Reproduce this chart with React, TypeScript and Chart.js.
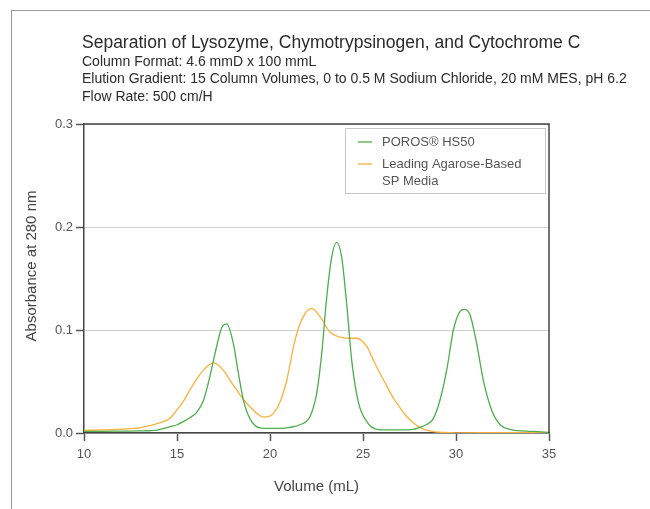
import React, { useEffect, useRef } from "react";
import { Chart, registerables } from "chart.js";

Chart.register(...registerables);

const titleText = "Separation of Lysozyme, Chymotrypsinogen, and Cytochrome C";
const subtitleLines = [
  "Column Format: 4.6 mmD x 100 mmL",
  "Elution Gradient: 15 Column Volumes, 0 to 0.5 M Sodium Chloride, 20 mM MES, pH 6.2",
  "Flow Rate: 500 cm/H",
];
const xAxisTitle = "Volume (mL)";
const yAxisTitle = "Absorbance at 280 nm";
const seriesNames = ["POROS\u00AE HS50", "Leading Agarose-Based|SP Media"];
const seriesColors = ["#4cae4c", "#fbb13c"];

const porosX = [10, 11, 12, 13, 13.55, 14, 14.6, 15, 15.34, 15.7, 16.06, 16.41, 16.77, 17.13, 17.4, 17.67, 18.03, 18.3, 18.57, 18.92, 19.46, 20, 20.54, 21.07, 21.61, 22.15, 22.51, 22.78, 23.05, 23.32, 23.58, 23.85, 24.12, 24.39, 24.75, 25.2, 25.74, 26.45, 27, 27.7, 28.06, 28.4, 28.78, 29.14, 29.5, 29.86, 30.22, 30.45, 30.75, 31.11, 31.47, 31.92, 32.37, 32.9, 34.15, 35];
const porosY = [0.0015, 0.0016, 0.0018, 0.002, 0.0022, 0.003, 0.006, 0.008, 0.011, 0.015, 0.02, 0.031, 0.055, 0.084, 0.102, 0.106, 0.087, 0.058, 0.032, 0.014, 0.005, 0.0045, 0.0045, 0.0055, 0.008, 0.016, 0.0385, 0.077, 0.132, 0.171, 0.185, 0.171, 0.126, 0.071, 0.03, 0.011, 0.0036, 0.003, 0.003, 0.0036, 0.0055, 0.008, 0.014, 0.032, 0.061, 0.1, 0.118, 0.12, 0.115, 0.087, 0.051, 0.022, 0.008, 0.0036, 0.0015, 0.0005];

const agaroseX = [10, 11, 12.3, 13, 13.7, 14.26, 14.6, 14.98, 15.35, 15.7, 16.05, 16.41, 16.99, 17.49, 17.85, 18.2, 18.55, 18.92, 19.3, 19.64, 19.9, 20.18, 20.54, 20.9, 21.34, 21.79, 22.24, 22.69, 23.22, 23.76, 24.2, 24.66, 25.2, 25.55, 25.91, 26.27, 26.63, 26.99, 27.35, 27.7, 28.06, 28.4, 28.78, 29.4, 30, 32, 35];
const agaroseY = [0.0025, 0.003, 0.004, 0.005, 0.0078, 0.011, 0.014, 0.022, 0.031, 0.042, 0.052, 0.061, 0.068, 0.061, 0.051, 0.042, 0.033, 0.0255, 0.019, 0.0155, 0.0158, 0.019, 0.03, 0.051, 0.09, 0.113, 0.121, 0.113, 0.098, 0.093, 0.092, 0.092, 0.084, 0.071, 0.058, 0.046, 0.034, 0.0245, 0.016, 0.01, 0.0055, 0.0028, 0.0013, 0.0005, 0.0002, 0.0003, 0.0005];

const FONT = "'Liberation Sans', Arial, Helvetica, sans-serif";

const decorPlugin = {
  id: "decor",
  afterDraw(chart: any) {
    const { ctx, chartArea } = chart;
    const { left, right, top, bottom } = chartArea;
    ctx.save();
    ctx.strokeStyle = "#444";
    ctx.lineWidth = 1.5;
    ctx.beginPath();
    ctx.moveTo(left, top);
    ctx.lineTo(right, top);
    ctx.lineTo(right, bottom);
    ctx.stroke();

    ctx.fillStyle = "#2b2b2b";
    ctx.textAlign = "left";
    ctx.textBaseline = "middle";
    ctx.font = `17.5px ${FONT}`;
    ctx.fillText(titleText, left - 2, 43);
    ctx.font = `14px ${FONT}`;
    const ys = [62, 79, 97];
    subtitleLines.forEach((t, i) => ctx.fillText(t, left - 2, ys[i]));

    ctx.save();
    ctx.translate(32, 266);
    ctx.rotate(-Math.PI / 2);
    ctx.textAlign = "center";
    ctx.textBaseline = "middle";
    ctx.font = `15px ${FONT}`;
    ctx.fillStyle = "#444";
    ctx.fillText(yAxisTitle, 0, 0);
    ctx.restore();

    const bx = right - 204;
    const by = top + 4;
    const bw = 200;
    const bh = 65;
    ctx.fillStyle = "#fff";
    ctx.fillRect(bx, by, bw, bh);
    ctx.strokeStyle = "#c8c8c8";
    ctx.lineWidth = 1;
    ctx.strokeRect(bx + 0.5, by + 0.5, bw, bh);
    ctx.font = `13px ${FONT}`;
    ctx.textAlign = "left";
    ctx.textBaseline = "middle";
    const rowY = [by + 14, by + 36];
    seriesNames.forEach((name, i) => {
      ctx.strokeStyle = seriesColors[i];
      ctx.lineWidth = 1.3;
      ctx.beginPath();
      ctx.moveTo(bx + 13, rowY[i]);
      ctx.lineTo(bx + 27, rowY[i]);
      ctx.stroke();
      ctx.fillStyle = "#555";
      name.split("|").forEach((ln, j) => ctx.fillText(ln, bx + 37, rowY[i] + j * 17));
    });
    ctx.restore();
  },
};

export default function App() {
  const ref = useRef<HTMLCanvasElement | null>(null);
  useEffect(() => {
    if (!ref.current) return;
    const chart = new Chart(ref.current, {
      type: "line",
      data: {
        datasets: [
          {
            label: seriesNames[0],
            data: porosX.map((x, i) => ({ x, y: porosY[i] })),
            borderColor: seriesColors[0],
            borderWidth: 1.3,
            pointRadius: 0,
            cubicInterpolationMode: "monotone",
          },
          {
            label: seriesNames[1],
            data: agaroseX.map((x, i) => ({ x, y: agaroseY[i] })),
            borderColor: seriesColors[1],
            borderWidth: 1.3,
            pointRadius: 0,
            cubicInterpolationMode: "monotone",
          },
        ],
      },
      options: {
        responsive: false,
        animation: false,
        devicePixelRatio: 1,
        layout: { padding: { top: 124, right: 101, bottom: 0, left: 0 } },
        plugins: { legend: { display: false }, tooltip: { enabled: false }, title: { display: false } },
        scales: {
          x: {
            type: "linear",
            min: 10,
            max: 35,
            afterFit: (s: any) => { s.height = 76; },
            ticks: { stepSize: 5, color: "#555", padding: 6, font: { family: FONT, size: 13 } },
            grid: { drawOnChartArea: false, tickLength: 8, tickColor: "#555", tickWidth: 1.5 },
            border: { color: "#444", width: 1.5 },
            title: { display: true, text: xAxisTitle, color: "#444", font: { family: FONT, size: 15 }, padding: { top: 0, bottom: 13 } },
          },
          y: {
            min: 0,
            max: 0.3,
            afterFit: (s: any) => { s.width = 84; },
            ticks: { stepSize: 0.1, color: "#555", padding: 3, font: { family: FONT, size: 13 }, callback: (v: any) => Number(v).toFixed(1) },
            grid: { color: "#cfcfcf", lineWidth: 1, tickLength: 8, tickColor: "#555", tickWidth: 1.5 },
            border: { color: "#444", width: 1.5 },
          },
        },
      },
      plugins: [decorPlugin],
    } as any);
    return () => chart.destroy();
  }, []);
  return (
    <div style={{ position: "fixed", left: 0, top: 0, width: 650, height: 509, overflow: "hidden", background: "#fff" }}>
      <div style={{ position: "absolute", left: 11, top: 10, width: 700, height: 600, borderLeft: "1px solid #9a9a9a", borderTop: "1px solid #9a9a9a" }} />
      <canvas ref={ref} width={650} height={509} style={{ position: "absolute", left: 0, top: 0, width: 650, height: 509 }} />
    </div>
  );
}
